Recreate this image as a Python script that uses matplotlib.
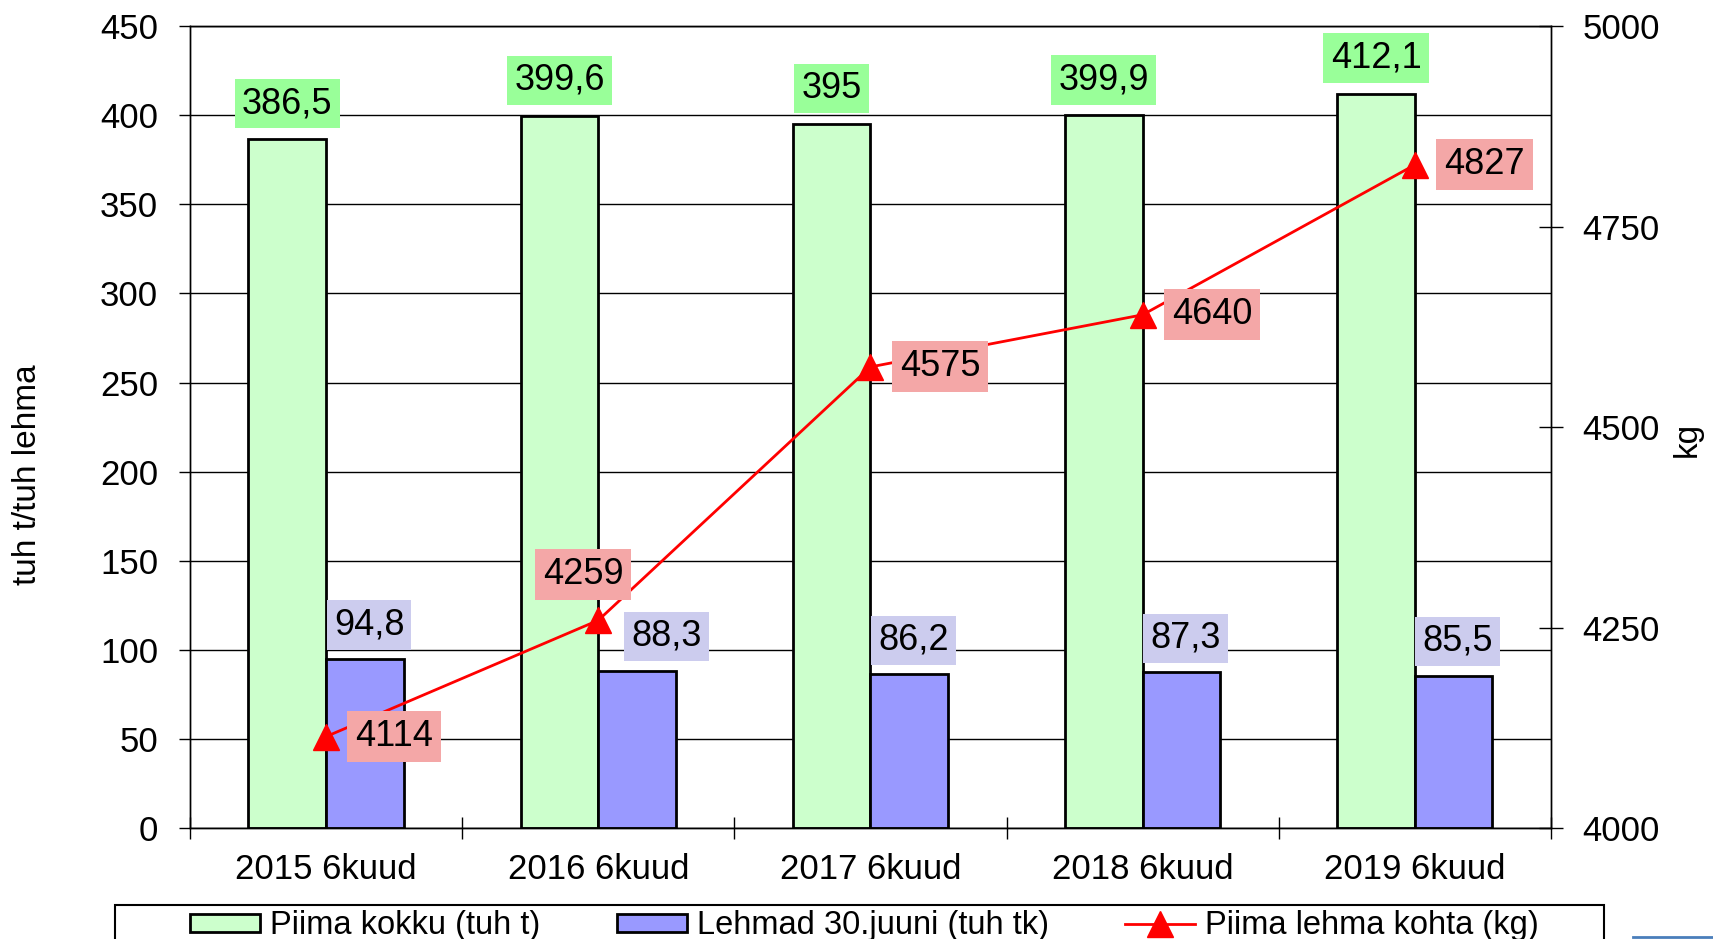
import matplotlib
matplotlib.use('Agg')
import matplotlib.pyplot as plt
from matplotlib.patches import Rectangle
from matplotlib.lines import Line2D
import numpy as np

# Andmed
perioodid = ['2015 6kuud', '2016 6kuud', '2017 6kuud', '2018 6kuud', '2019 6kuud']
piim_kokku = [386.5, 399.6, 395.0, 399.9, 412.1]      # tuh t
lehmad = [94.8, 88.3, 86.2, 87.3, 85.5]               # tuh tk
piim_lehma = [4114, 4259, 4575, 4640, 4827]           # kg

plt.rcParams['font.family'] = ['Liberation Sans', 'DejaVu Sans']


def fmt(v):
    return f'{v:g}'.replace('.', ',')


def joonista():
    fig = plt.figure(figsize=(17.13, 9.39), dpi=100)
    ax = fig.add_axes([0.1109, 0.1182, 0.7945, 0.854])

    x = np.arange(len(perioodid))
    w = 0.285

    # Tulbad
    ax.bar(x - w / 2, piim_kokku, w, color='#CCFFCC', edgecolor='black', linewidth=2,
           label='Piima kokku (tuh t)', zorder=2)
    ax.bar(x + w / 2, lehmad, w, color='#9999FF', edgecolor='black', linewidth=2,
           label='Lehmad 30.juuni (tuh tk)', zorder=2)

    ax.set_xlim(-0.5, len(perioodid) - 0.5)
    ax.set_ylim(0, 450)
    ax.set_yticks(np.arange(0, 451, 50))
    ax.yaxis.grid(True, color='black', linewidth=1.0)
    ax.set_axisbelow(True)

    # x-telje jaotused kategooriate vahel
    ax.set_xticks(x)
    ax.set_xticklabels(perioodid)
    ax.set_xticks(np.arange(-0.5, len(perioodid)), minor=True)
    ax.tick_params(axis='x', which='major', length=0, pad=18, labelsize=25)
    ax.tick_params(axis='x', which='minor', direction='inout', length=16.5, width=1)
    ax.tick_params(axis='y', direction='out', length=8, width=1, pad=15, labelsize=25)
    for s in ax.spines.values():
        s.set_linewidth(1.0)

    ax.set_ylabel('tuh t/tuh lehma', fontsize=24)
    ax.yaxis.set_label_coords(-0.108, 0.441)

    # Tulpade väärtused
    for i, v in enumerate(piim_kokku):
        ax.annotate(fmt(v), (x[i] - w / 2, v), xytext=(0, 13), textcoords='offset points',
                    ha='center', va='bottom', fontsize=26, zorder=5,
                    bbox=dict(boxstyle='square,pad=0.2', fc='#99FF99', ec='none'))
    nihked = {1: 18}
    for i, v in enumerate(lehmad):
        ax.annotate(fmt(v), (x[i] + w / 2, v), xytext=(3 + nihked.get(i, 0), 12),
                    textcoords='offset points', ha='center', va='bottom', fontsize=26,
                    zorder=5, bbox=dict(boxstyle='square,pad=0.2', fc='#CCCCEE', ec='none'))

    # Teine telg: piim lehma kohta
    ax2 = ax.twinx()
    ax2.plot(x, piim_lehma, color='red', linewidth=2, marker='^', markersize=19,
             label='Piima lehma kohta (kg)')
    ax2.set_ylim(4000, 5000)
    ax2.set_yticks(np.arange(4000, 5001, 250))
    ax2.tick_params(axis='y', direction='inout', length=17, width=1, pad=14, labelsize=25)
    for s in ax2.spines.values():
        s.set_linewidth(1.0)
    ax2.set_ylabel('kg', fontsize=24)
    ax2.yaxis.set_label_coords(1.089, 0.485)

    for i, v in enumerate(piim_lehma):
        if i == 1:
            pos, ha = (-11, 33), 'center'
        else:
            pos, ha = (21, 0), 'left'
        ax2.annotate(fmt(v), (x[i], v), xytext=pos, textcoords='offset points',
                     ha=ha, va='center', fontsize=26,
                     bbox=dict(boxstyle='square,pad=0.22', fc='#F4A7A7', ec='none'))

    # Legend (raam joonistatakse eraldi, alumine serv jääb pildist välja)
    h1, l1 = ax.get_legend_handles_labels()
    h2, l2 = ax2.get_legend_handles_labels()
    fig.legend(h1 + h2, l1 + l2, ncol=3, loc='upper left',
               bbox_to_anchor=(174 / 1713, 1 - 894 / 939), frameon=False,
               fontsize=23.5, borderpad=0, handlelength=2.15, handleheight=0.46,
               handletextpad=0.3, columnspacing=2.33, numpoints=1)
    fig.patches.append(Rectangle((115 / 1713, -0.05), (1604 - 115) / 1713, 0.05 + 1 - 905 / 939,
                                 transform=fig.transFigure, fill=False, ec='black', lw=1.5))
    fig.lines.append(Line2D([1633 / 1713, 1.0], [1 - 937 / 939] * 2, transform=fig.transFigure,
                            color='#4A7EBB', lw=2))

    fig.savefig('out.png', dpi=100)
    plt.close(fig)


if __name__ == '__main__':
    joonista()
